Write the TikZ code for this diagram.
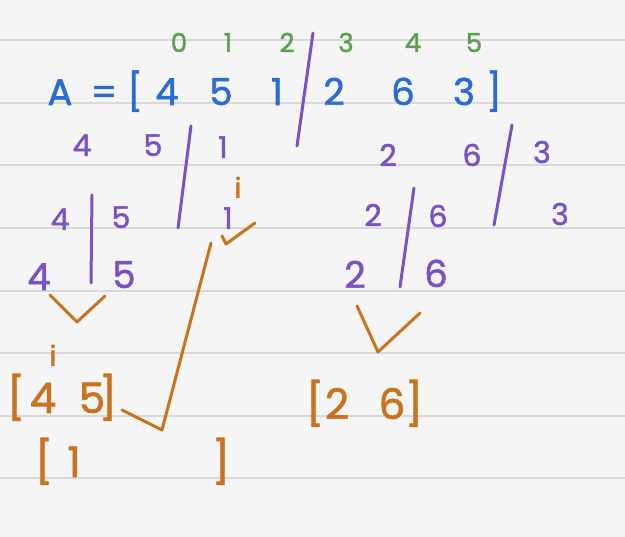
\documentclass[tikz,border=0pt]{standalone}
\usepackage{fontspec}
\setmainfont{Poppins}[FakeBold=1.6]
\definecolor{paper}{HTML}{F5F5F5}
\definecolor{rulecol}{HTML}{D8D8D8}
\definecolor{inkblue}{HTML}{2B6BD6}
\definecolor{inkgreen}{HTML}{5BA04E}
\definecolor{inkpurple}{HTML}{7A52C4}
\definecolor{inkorange}{HTML}{C9731F}
\tikzset{
  hw/.style={anchor=base, inner sep=0pt, outer sep=0pt},
  idx/.style={hw, text=inkgreen, font=\fontsize{26}{26}\selectfont},
  arr/.style={hw, text=inkblue, font=\fontsize{37}{37}\selectfont},
  sub/.style={hw, text=inkpurple, font=\fontsize{30}{30}\selectfont},
  subbig/.style={hw, text=inkpurple, font=\fontsize{37}{37}\selectfont},
  mrg/.style={hw, text=inkorange, font=\fontsize{42}{42}\selectfont},
  ptr/.style={hw, text=inkorange, font=\fontsize{28}{28}\selectfont},
  split/.style={draw=inkpurple, line width=3pt, line cap=round},
  tick/.style={draw=inkorange, line width=3pt, line cap=round, line join=round},
  ruling/.style={draw=rulecol, line width=1.3pt}
}
\begin{document}
\begin{tikzpicture}[x=1pt,y=-1pt]
\fill[paper] (0,0) rectangle (625,537);
\useasboundingbox (0,0) rectangle (625,537);
\foreach \yy in {40,103,165,228,291,353,416,478}
  \draw[ruling] (0,\yy) -- (625,\yy);

% indices
\node[idx] (i0) at (179,52) {0};
\node[idx] (i1) at (228,52) {1};
\node[idx] (i2) at (287,52) {2};
\node[idx] (i3) at (346,52) {3};
\node[idx] (i4) at (413,52) {4};
\node[idx] (i5) at (474,52) {5};

% array A
\node[arr] (aA) at (60,105) {A};
\node[arr] (aeq) at (104,105) {=};
\node[arr] (alb) at (135,105) {[};
\node[arr] (a0) at (167,105) {4};
\node[arr] (a1) at (221,105) {5};
\node[arr] (a2) at (277,105) {1};
\node[arr] (a3) at (334,105) {2};
\node[arr] (a4) at (403,105) {6};
\node[arr] (a5) at (464,105) {3};
\node[arr] (arb) at (494,105) {]};
\coordinate (s0t) at (313,33);
\coordinate (s0b) at (297,146);
\draw[split] (s0t) -- (s0b);

% level 1
\node[sub] (l4) at (82,156) {4};
\node[sub] (l5) at (153,156) {5};
\node[sub] (l1) at (223,158) {1};
\coordinate (s1t) at (191,126);
\coordinate (s1b) at (178,228);
\draw[split] (s1t) -- (s1b);
\node[sub] (r2) at (388,166) {2};
\node[sub] (r6) at (472,166) {6};
\node[sub] (r3) at (542,163) {3};
\coordinate (s2t) at (512,125);
\coordinate (s2b) at (494,225);
\draw[split] (s2t) -- (s2b);

% level 2
\node[sub] (m4) at (60,230) {4};
\node[sub] (m5) at (121,228) {5};
\node[sub] (m1) at (228,229) {1};
\coordinate (s3t) at (92,195);
\coordinate (s3b) at (91,283);
\draw[split] (s3t) -- (s3b);
\node[sub] (n2) at (373,226) {2};
\node[sub] (n6) at (438,227) {6};
\node[sub] (n3) at (560,225) {3};
\coordinate (s4t) at (414,188);
\coordinate (s4b) at (400,287);
\draw[split] (s4t) -- (s4b);

% level 3
\node[subbig] (p4) at (39,290) {4};
\node[subbig] (p5) at (124,288) {5};
\node[subbig] (q2) at (355,288) {2};
\node[subbig] (q6) at (436,287) {6};

% merge ticks
\coordinate (v1a) at (50,295); \coordinate (v1b) at (77,322); \coordinate (v1c) at (105,296);
\draw[tick] (v1a) -- (v1b) -- (v1c);
\coordinate (v2a) at (357,306); \coordinate (v2b) at (378,352); \coordinate (v2c) at (420,313);
\draw[tick] (v2a) -- (v2b) -- (v2c);
\coordinate (v3a) at (222,236); \coordinate (v3b) at (226,244); \coordinate (v3c) at (255,223);
\draw[tick] (v3a) -- (v3b) -- (v3c);
\coordinate (v4a) at (122,410); \coordinate (v4b) at (162,430); \coordinate (v4c) at (211,243);
\draw[tick] (v4a) -- (v4b) -- (v4c);

% pointers
\node[ptr] (pi1) at (238,198) {i};
\node[ptr] (pi2) at (53,366) {i};

% merged results
\node[mrg] (b1l) at (16,413) {[};
\node[mrg] (b1a) at (43,413) {4};
\node[mrg] (b1b) at (92,413) {5};
\node[mrg] (b1r) at (108,413) {]};
\node[mrg] (b2l) at (315,419) {[};
\node[mrg] (b2a) at (337,419) {2};
\node[mrg] (b2b) at (392,419) {6};
\node[mrg] (b2r) at (414,419) {]};
\node[mrg] (b3l) at (44,477) {[};
\node[mrg] (b3a) at (74,477) {1};
\node[mrg] (b3r) at (221,477) {]};
\end{tikzpicture}
\end{document}
